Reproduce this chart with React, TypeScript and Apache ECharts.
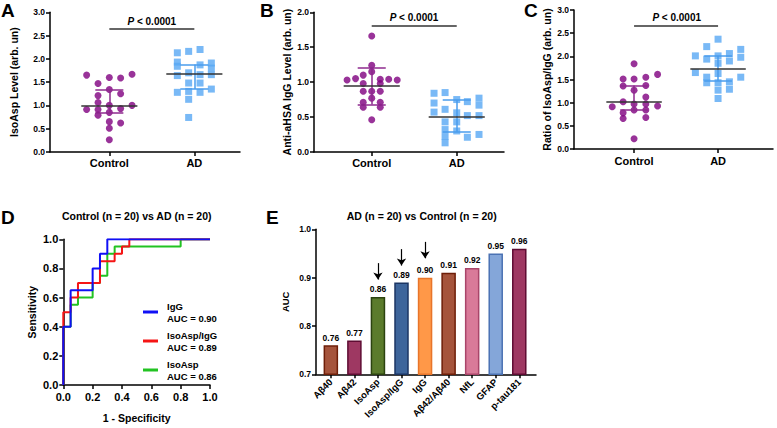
import React, { useEffect, useRef } from "react";
import * as echarts from "echarts";

const FONT = "'Liberation Sans', Arial, Helvetica, sans-serif";
const PURPLE = "#800080";
const PURPLE_BAR = "#8E2A8E";
const BLUE = "#58A8F4";
const BLUE_BAR = "#4A9CEC";
const MED = "#333333";

const groups = ["Control", "AD"];

// ---------- Panel A : IsoAsp level ----------
const aCtrlY = [1.65, 0.91, 1.47, 1.21, 1.06, 0.91, 0.79, 1.60, 1.34, 1.00, 0.85, 0.65, 0.51, 0.26, 1.59, 1.25, 0.93, 0.62, 1.67, 1.00];
const aCtrlX = [-0.267, -0.267, -0.133, -0.133, -0.133, -0.133, -0.133, 0, 0, 0, 0, 0, 0, 0, 0.133, 0.133, 0.133, 0.133, 0.267, 0.267];
const aAdY = [2.13, 1.93, 1.84, 1.64, 1.28, 2.16, 1.70, 1.48, 1.30, 1.13, 0.74, 2.20, 1.87, 1.66, 1.48, 1.28, 1.91, 1.80, 1.66, 1.35];
const aAdX = [-0.2, -0.2, -0.2, -0.2, -0.2, -0.067, -0.067, -0.067, -0.067, -0.067, -0.067, 0.067, 0.067, 0.067, 0.067, 0.067, 0.2, 0.2, 0.2, 0.2];
const aMedian = [1.0, 1.68];
const aQ1 = [0.84, 1.35];
const aQ3 = [1.33, 1.88];

// ---------- Panel B : anti-aHSA IgG ----------
const bCtrlY = [1.66, 1.24, 1.15, 1.10, 1.03, 1.05, 1.04, 1.04, 1.03, 0.98, 0.98, 0.87, 0.87, 0.87, 0.77, 0.71, 0.71, 0.64, 0.64, 0.46];
const bCtrlX = [0, 0, 0, -0.1, -0.29, -0.19, 0.1, 0.2, 0.3, -0.1, 0.1, -0.1, 0, 0.1, 0, -0.1, 0.1, -0.1, 0.1, 0];
const bAdY = [0.84, 0.85, 0.70, 0.75, 0.72, 0.77, 0.67, 0.57, 0.61, 0.56, 0.52, 0.52, 0.43, 0.43, 0.32, 0.30, 0.22, 0.21, 0.25, 0.13];
const bAdX = [-0.267, -0.137, -0.267, 0, 0.125, 0.262, 0.262, -0.267, -0.137, 0, 0.125, 0.262, -0.137, 0, -0.137, 0, -0.137, 0.125, 0.262, -0.137];
const bMedian = [0.95, 0.51];
const bQ1 = [0.68, 0.29];
const bQ3 = [1.21, 0.74];

// ---------- Panel C : ratio IsoAsp/IgG ----------
const cCtrlY = [1.84, 1.51, 1.51, 1.55, 1.61, 1.36, 1.37, 1.27, 1.12, 1.02, 0.97, 0.91, 0.97, 0.93, 0.78, 0.84, 0.84, 0.66, 0.68, 0.22];
const cCtrlX = [0, -0.13, 0, 0.14, 0.28, -0.13, 0.14, 0, 0.14, -0.13, 0, -0.26, 0.14, 0.28, -0.13, 0, 0.14, -0.13, 0.14, 0];
const cAdY = [2.37, 2.21, 2.01, 1.94, 2.01, 2.06, 2.15, 1.85, 1.90, 1.98, 1.65, 1.55, 1.63, 1.55, 1.43, 1.43, 1.45, 1.29, 1.27, 1.09];
const cAdX = [0, -0.135, -0.27, -0.135, 0, 0.135, 0.27, 0, 0.135, 0.27, -0.27, -0.135, 0, 0.27, -0.135, 0, 0.135, 0.135, 0, 0];
const cMedian = [1.01, 1.74];
const cQ1 = [0.84, 1.47];
const cQ3 = [1.37, 2.01];

// ---------- Panel D : ROC curves ----------
const rocNames = ["IgG", "IsoAsp/IgG", "IsoAsp"];
const rocAuc = ["0.90", "0.89", "0.86"];
const rocColors = ["#1010F5", "#F51515", "#22C322"];
const iggFpr = [0, 0, 0.05, 0.05, 0.2, 0.2, 0.25, 0.25, 0.3, 0.3, 1];
const iggTpr = [0, 0.4, 0.4, 0.65, 0.65, 0.8, 0.8, 0.9, 0.9, 1, 1];
const ratioFpr = [0, 0, 0.05, 0.05, 0.1, 0.1, 0.25, 0.25, 0.35, 0.35, 0.4, 0.4, 0.45, 0.45, 1];
const ratioTpr = [0, 0.5, 0.5, 0.6, 0.6, 0.7, 0.7, 0.85, 0.85, 0.9, 0.9, 0.95, 0.95, 1, 1];
const isoFpr = [0, 0, 0.05, 0.05, 0.1, 0.1, 0.2, 0.2, 0.25, 0.25, 0.3, 0.3, 0.35, 0.35, 0.8, 0.8, 1];
const isoTpr = [0, 0.4, 0.4, 0.55, 0.55, 0.6, 0.6, 0.7, 0.7, 0.75, 0.75, 0.9, 0.9, 0.95, 0.95, 1, 1];

// ---------- Panel E : AUC bars ----------
const eCats = ["Aβ40", "Aβ42", "IsoAsp", "IsoAsp/IgG", "IgG", "Aβ42/Aβ40", "NfL", "GFAP", "p-tau181"];
const eAuc = [0.76, 0.77, 0.86, 0.89, 0.90, 0.91, 0.92, 0.95, 0.96];
const eFill = ["#A5543C", "#9E3862", "#5B7B2C", "#3E659B", "#FF9848", "#A5543C", "#D97A99", "#84A6D9", "#9E3862"];
const eBorder = ["#6E1E08", "#5E0C32", "#2C4310", "#1C3664", "#E8752A", "#6E1E08", "#A9456A", "#4B72B3", "#5E0C32"];
const arrowCat = [2, 3, 4];
const arrowTop = [0.930, 0.959, 0.974];
const arrowEnd = [0.896, 0.925, 0.940];

const seg = (x1: number, y1: number, x2: number, y2: number, color: string, w = 1.5) => [
  { coord: [x1, y1], lineStyle: { color, width: w, type: "solid" } },
  { coord: [x2, y2] },
];

const axisLineStyle = { show: true, onZero: false, lineStyle: { color: "#000", width: 1.5 } };
const tickStyle = { show: true, length: 4, lineStyle: { color: "#000", width: 1.5 } };

type Panel = {
  left: number; top: number; width: number; height: number;
  xmin: number; xmax: number; ymax: number; yName: string; nameGap: number;
  ctrlX: number[]; ctrlY: number[]; adX: number[]; adY: number[];
  med: number[]; q1: number[]; q3: number[]; sigY: number;
};

function scatterPanel(k: number, p: Panel) {
  const grid = { left: p.left, top: p.top, width: p.width, height: p.height };
  const xAxis = {
    gridIndex: k, type: "value", min: p.xmin, max: p.xmax,
    axisLine: axisLineStyle,
    axisTick: { ...tickStyle, customValues: [1, 2] },
    splitLine: { show: false },
    axisLabel: {
      customValues: [1, 2], formatter: (v: number) => groups[Math.round(v) - 1],
      fontSize: 11, fontWeight: "bold", color: "#000", fontFamily: FONT, margin: 6,
    },
  };
  const yAxis = {
    gridIndex: k, type: "value", min: 0, max: p.ymax, interval: 0.5,
    axisLine: axisLineStyle, axisTick: tickStyle, splitLine: { show: false },
    axisLabel: { formatter: (v: number) => v.toFixed(1), fontSize: 8.5, fontWeight: "bold", color: "#000", fontFamily: FONT, margin: 5 },
    name: p.yName, nameLocation: "middle", nameGap: p.nameGap,
    nameTextStyle: { fontSize: 10.5, fontWeight: "bold", color: "#000", fontFamily: FONT },
  };
  const ml = (data: any[]) => ({ silent: true, symbol: ["none", "none"], label: { show: false }, emphasis: { disabled: true }, animation: false, data });
  const cap = 0.165, mw = 0.33;
  const series = [
    {
      type: "scatter", xAxisIndex: k, yAxisIndex: k, symbol: "circle", symbolSize: 7,
      itemStyle: { color: PURPLE }, emphasis: { disabled: true },
      data: p.ctrlY.map((v, i) => [1 + p.ctrlX[i], v]),
      markLine: ml([
        seg(1 - cap, p.q3[0], 1 + cap, p.q3[0], PURPLE_BAR),
        seg(1, p.q1[0], 1, p.q3[0], PURPLE_BAR),
        seg(1 - cap, p.q1[0], 1 + cap, p.q1[0], PURPLE_BAR),
        seg(1 - mw, p.med[0], 1 + mw, p.med[0], MED),
        seg(1, p.sigY, 2, p.sigY, MED),
      ]),
    },
    {
      type: "scatter", xAxisIndex: k, yAxisIndex: k, symbol: "rect", symbolSize: 7,
      itemStyle: { color: BLUE }, emphasis: { disabled: true },
      data: p.adY.map((v, i) => [2 + p.adX[i], v]),
      markLine: ml([
        seg(2 - cap, p.q3[1], 2 + cap, p.q3[1], BLUE_BAR),
        seg(2, p.q1[1], 2, p.q3[1], BLUE_BAR),
        seg(2 - cap, p.q1[1], 2 + cap, p.q1[1], BLUE_BAR),
        seg(2 - mw, p.med[1], 2 + mw, p.med[1], MED),
      ]),
    },
  ];
  return { grid, xAxis, yAxis, series };
}

function buildOption() {
  const A = scatterPanel(0, {
    left: 50, top: 12.3, width: 190, height: 139.6, xmin: 0.302, xmax: 2.537, ymax: 3,
    yName: "IsoAsp Level (arb. un)", nameGap: 31,
    ctrlX: aCtrlX, ctrlY: aCtrlY, adX: aAdX, adY: aAdY, med: aMedian, q1: aQ1, q3: aQ3, sigY: 2.64,
  });
  const B = scatterPanel(1, {
    left: 314, top: 12.3, width: 190, height: 139.6, xmin: 0.321, xmax: 2.556, ymax: 2,
    yName: "Anti-aHSA IgG Level (arb. un)", nameGap: 22,
    ctrlX: bCtrlX, ctrlY: bCtrlY, adX: bAdX, adY: bAdY, med: bMedian, q1: bQ1, q3: bQ3, sigY: 1.813,
  });
  const C = scatterPanel(2, {
    left: 574, top: 10, width: 199, height: 139, xmin: 0.285, xmax: 2.654, ymax: 3,
    yName: "Ratio of IsoAsp/IgG (arb. un)", nameGap: 22,
    ctrlX: cCtrlX, ctrlY: cCtrlY, adX: cAdX, adY: cAdY, med: cMedian, q1: cQ1, q3: cQ3, sigY: 2.67,
  });

  const rocX = [iggFpr, ratioFpr, isoFpr];
  const rocY = [iggTpr, ratioTpr, isoTpr];
  const rocSeries = [2, 1, 0].map((i) => ({
    type: "line", name: rocNames[i], xAxisIndex: 3, yAxisIndex: 3, showSymbol: false, symbol: "none",
    lineStyle: { color: rocColors[i], width: 2 }, itemStyle: { color: rocColors[i] },
    emphasis: { disabled: true }, z: 3 + (2 - i),
    data: rocX[i].map((x, j) => [x, rocY[i][j]]),
  }));

  const textStyle = (size: number) => ({ fontSize: size, fontWeight: "bold", color: "#000", fontFamily: FONT });

  const barSeries = {
    type: "bar", xAxisIndex: 4, yAxisIndex: 4, barWidth: 14.5, clip: true,
    emphasis: { disabled: true },
    data: eAuc.map((v, i) => ({ value: [i, v], itemStyle: { color: eFill[i], borderColor: eBorder[i], borderWidth: 1.5 } })),
    label: { show: true, position: "top", distance: 3, formatter: (p: any) => p.value[1].toFixed(2), ...textStyle(8.5) },
    markLine: {
      silent: true, symbol: ["none", "arrow"], symbolSize: 7, label: { show: false }, emphasis: { disabled: true },
      data: arrowCat.map((c, i) => [
        { coord: [c, arrowTop[i]], lineStyle: { color: "#000", width: 1.2, type: "solid" }, itemStyle: { color: "#000" } },
        { coord: [c, arrowEnd[i]] },
      ]),
    },
  };

  const letter = (t: string, x: number, y: number) => ({
    type: "text", x, y, style: { text: t, fill: "#000", font: `bold 19px ${FONT}`, align: "left", verticalAlign: "top" },
  });
  const ptext = (x: number, y: number) => ({
    type: "text", x, y,
    style: {
      text: "{i|P} < 0.0001", fill: "#000", font: `bold 10px ${FONT}`, align: "center", verticalAlign: "middle",
      rich: { i: { fontStyle: "italic", fontWeight: "bold", fontSize: 10, fontFamily: FONT } },
    },
  });
  const title = (t: string, x: number, y: number) => ({
    type: "text", x, y, style: { text: t, fill: "#000", font: `bold 10.5px ${FONT}`, align: "center", verticalAlign: "middle" },
  });

  return {
    animation: false,
    backgroundColor: "#fff",
    textStyle: { fontFamily: FONT },
    grid: [A.grid, B.grid, C.grid,
      { left: 63.3, top: 239.3, width: 146.7, height: 145.7 },
      { left: 316, top: 229.3, width: 220, height: 145 }],
    xAxis: [A.xAxis, B.xAxis, C.xAxis,
      {
        gridIndex: 3, type: "value", min: 0, max: 1, interval: 0.2,
        axisLine: axisLineStyle, axisTick: tickStyle, splitLine: { show: false },
        axisLabel: { formatter: (v: number) => v.toFixed(1), ...textStyle(11), margin: 6 },
        name: "1 - Specificity", nameLocation: "middle", nameGap: 27, nameTextStyle: textStyle(10.5),
      },
      {
        gridIndex: 4, type: "value", min: -0.63, max: 8.71,
        axisLine: axisLineStyle, axisTick: { ...tickStyle, customValues: [0, 1, 2, 3, 4, 5, 6, 7, 8] }, splitLine: { show: false },
        axisLabel: { customValues: [0, 1, 2, 3, 4, 5, 6, 7, 8], formatter: (v: number) => eCats[Math.round(v)], rotate: 45, ...textStyle(9.5), margin: 6 },
      },
    ],
    yAxis: [A.yAxis, B.yAxis, C.yAxis,
      {
        gridIndex: 3, type: "value", min: 0, max: 1, interval: 0.2,
        axisLine: axisLineStyle, axisTick: tickStyle, splitLine: { show: false },
        axisLabel: { formatter: (v: number) => v.toFixed(1), ...textStyle(11), margin: 5 },
        name: "Sensitivity", nameLocation: "middle", nameGap: 26, nameTextStyle: textStyle(10.5),
      },
      {
        gridIndex: 4, type: "value", min: 0.7, max: 1.0, interval: 0.1,
        axisLine: axisLineStyle, axisTick: tickStyle, splitLine: { show: false },
        axisLabel: { formatter: (v: number) => v.toFixed(1), ...textStyle(8.5), margin: 5 },
        name: "AUC", nameLocation: "middle", nameGap: 26, nameTextStyle: textStyle(9.5),
      },
    ],
    legend: {
      orient: "vertical", left: 138, top: 295, itemWidth: 15, itemHeight: 3, itemGap: 5, icon: "rect",
      data: rocNames, selectedMode: false,
      formatter: (name: string) => `${name}\nAUC = ${rocAuc[rocNames.indexOf(name)]}`,
      textStyle: { ...textStyle(9.5), lineHeight: 12, padding: [0, 0, 0, 4] },
    },
    series: [...A.series, ...B.series, ...C.series, ...rocSeries, barSeries],
    graphic: [
      letter("A", 1, 1), letter("B", 260, 1), letter("C", 524, 1), letter("D", 1, 208), letter("E", 266, 208),
      ptext(151.8, 21), ptext(414, 17.3), ptext(676.7, 17.3),
      title("Control (n = 20) vs AD (n = 20)", 136.7, 216),
      title("AD (n = 20) vs Control (n = 20)", 421.7, 216),
    ],
  };
}

export default function App() {
  const ref = useRef<HTMLDivElement>(null);
  useEffect(() => {
    if (!ref.current) return;
    const chart = echarts.init(ref.current, undefined, { renderer: "svg" });
    chart.setOption(buildOption() as any);
    return () => chart.dispose();
  }, []);
  return <div ref={ref} style={{ width: 777, height: 428, position: "absolute", left: 0, top: 0 }} />;
}
